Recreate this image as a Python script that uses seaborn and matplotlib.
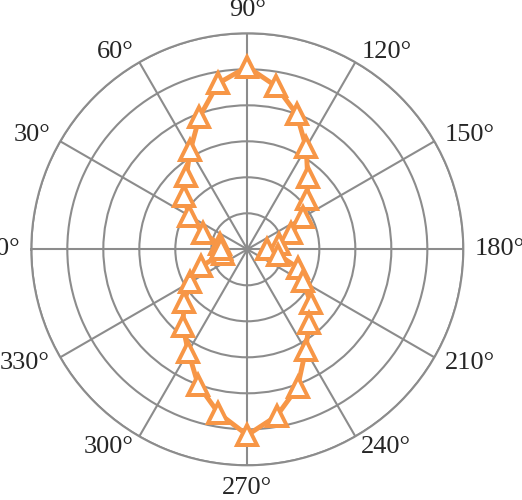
import numpy as np
import pandas as pd
import matplotlib
matplotlib.use("Agg")
import matplotlib.pyplot as plt
import seaborn as sns

sns.set_style("white")
plt.rcParams['font.family'] = ['Liberation Serif', 'DejaVu Serif']

# Data (angle in degrees, radius in grid units)
angles_deg = [0, 10, 20, 30, 40, 50, 60, 70, 80, 90, 100, 110, 120, 130, 140, 150, 160, 170,
              180, 190, 200, 210, 220, 230, 240, 250, 260, 270, 280, 290, 300, 310, 320, 330, 340, 350]
radius = [0.72, 0.78, 1.30, 1.87, 2.30, 2.64, 3.17, 3.90, 4.68, 5.07, 4.60, 4.00, 3.27, 2.61, 2.17, 1.80, 1.30, 0.88,
          0.55, 0.87, 1.50, 1.78, 2.30, 2.67, 3.24, 4.08, 4.70, 5.16, 4.62, 4.00, 3.28, 2.79, 2.29, 1.84, 1.37, 0.68]

tick_angles = list(range(0, 360, 30))
tick_labels = [f"{a}°" for a in tick_angles]
ring_levels = [1, 2, 3, 4, 5, 6]
r_max = 6

# close the loop
df = pd.DataFrame({"theta": np.deg2rad(angles_deg + [360]), "r": radius + [radius[0]]})

fig = plt.figure(figsize=(5.22, 5.0), dpi=100)
ax = fig.add_axes([0.0600, 0.0694, 0.8276, 0.864], projection='polar')
ax.set_theta_zero_location('W')
ax.set_theta_direction(-1)

orange = '#F79646'
sns.lineplot(data=df, x="theta", y="r", ax=ax, sort=False, estimator=None,
             color=orange, linewidth=3.5, marker='^', markersize=14,
             markerfacecolor='white', markeredgecolor=orange, markeredgewidth=2.8,
             zorder=3)

ax.set_ylim(0, r_max)
ax.set_yticks(ring_levels)
ax.set_yticklabels([])
ax.set_xlabel("")
ax.set_ylabel("")

grid_col = '#8c8c8c'
ax.set_thetagrids(tick_angles, [""] * len(tick_angles))
ax.grid(True, color=grid_col, linewidth=1.5)
ax.spines['polar'].set_color(grid_col)
ax.spines['polar'].set_linewidth(1.5)

# angle labels anchored just outside the rim, like the original
for ang, txt in zip(tick_angles, tick_labels):
    a = np.deg2rad(180 - ang)  # screen direction: zero at west, clockwise
    c, s = np.cos(a), np.sin(a)
    ha = 'center' if abs(c) < 0.1 else ('right' if c < 0 else 'left')
    va = 'bottom' if s > 0.9 else ('top' if s < -0.9 else 'center')
    off = 8.5
    ax.annotate(txt, xy=(np.deg2rad(ang), r_max), xytext=(off * c, off * s),
                textcoords='offset points', ha=ha, va=va, fontsize=19,
                annotation_clip=False)

fig.savefig("out.png", dpi=100)
